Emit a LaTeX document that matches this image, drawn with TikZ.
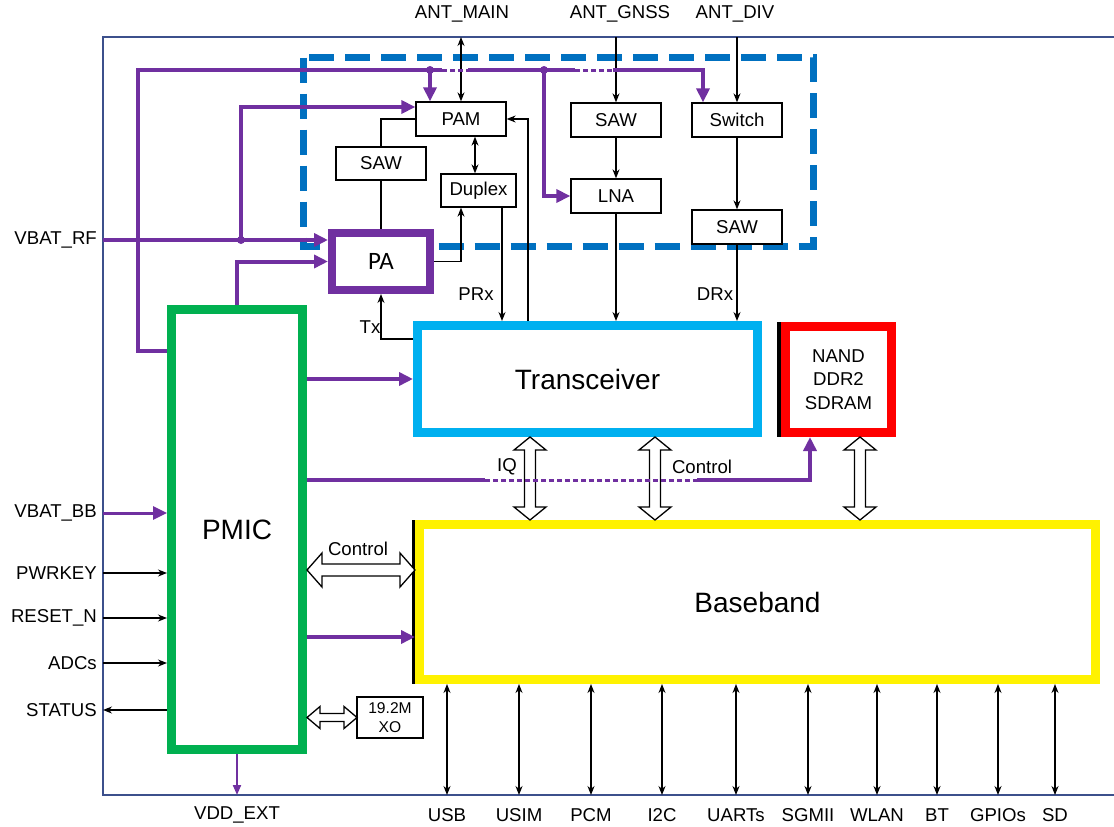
\documentclass[tikz,border=0pt]{standalone}
\usepackage{fontspec}
\setmainfont{Liberation Sans}
\newfontfamily\calfont{Carlito}
\usetikzlibrary{arrows.meta,calc}
\definecolor{pwrpurple}{RGB}{112,48,160}
\definecolor{rfblue}{RGB}{0,112,192}
\definecolor{trxcyan}{RGB}{0,176,240}
\definecolor{pmicgreen}{RGB}{0,176,80}
\definecolor{framegray}{RGB}{60,80,140}
\begin{document}
\begin{tikzpicture}[x=1pt,y=-1pt,
  every node/.style={font=\fontsize{18.6}{22}\selectfont,inner sep=0pt},
  blk/.style={draw,line width=1.3pt,fill=white,minimum width=90pt,minimum height=34pt},
  bigbox/.style={line width=9pt,fill=white,font=\fontsize{28}{32}\selectfont},
  sig/.style={line width=1.3pt,-{Stealth[length=9pt,width=7pt]}},
  sigtwo/.style={line width=1.3pt,{Stealth[length=9pt,width=7pt]}-{Stealth[length=9pt,width=7pt]}},
  pwr/.style={draw=pwrpurple,line width=4pt},
  pwrarr/.style={pwr,-{Triangle[length=14pt,width=13pt]}},
  pwrdot/.style={pwr,line width=3pt,dash pattern=on 5pt off 3pt},
  jdot/.style={circle,fill=pwrpurple,minimum size=8pt},
  pics/fatarrow/.style n args={4}{code={
    \draw[line width=1.3pt,fill=white] (0,0) -- (#2,#4) -- (#3,#4) -- (#3,#1-#4) -- (#2,#1-#4)
      -- (0,#1) -- (-#2,#1-#4) -- (-#3,#1-#4) -- (-#3,#4) -- (-#2,#4) -- cycle;}}
]
\useasboundingbox (0,0) rectangle (1114,827);
\draw[framegray,line width=1.5pt] (1114,37) -- (103,37) -- (103,795) -- (1114,795);
\draw[rfblue,line width=7pt,dash pattern=on 25pt off 11pt] (303.5,57.5) rectangle (813.5,246.5);

% RF front end
\node[blk] (pam) at (461,119) {PAM};
\node[blk,minimum height=33pt] (sawl) at (381,163.5) {SAW};
\node[blk,minimum width=75pt,minimum height=33pt] (duplex) at (478.5,190.5) {Duplex};
\node[blk] (sawg) at (616,120) {SAW};
\node[blk] (lna) at (616,196) {LNA};
\node[blk] (switch) at (737,120) {Switch};
\node[blk] (sawd) at (737,227) {SAW};
\node[draw=pwrpurple,line width=8pt,fill=white,minimum width=98pt,minimum height=57pt,
  font=\calfont\fontsize{25}{28}\selectfont] (pa) at (381,261.5) {PA};

% main blocks
\node[bigbox,draw=trxcyan,minimum width=340pt,minimum height=107pt] (trx) at (587.5,379) {Transceiver};
\node[bigbox,draw=red,minimum width=106pt,minimum height=106pt,align=center,
  font=\fontsize{18.6}{23.5}\selectfont] (nand) at (838.5,379.5) {NAND\\DDR2\\SDRAM};
\node[bigbox,draw=pmicgreen,minimum width=131pt,minimum height=440pt] (pmic) at (237,529.5) {PMIC};
\node[bigbox,draw=yellow,minimum width=676pt,minimum height=155pt] (bb) at (757.5,602) {Baseband};
\node[blk,minimum width=66pt,minimum height=41pt,align=center,
  font=\fontsize{15.6}{19}\selectfont] (xo) at (390,717.5) {19.2M\\XO};
\draw[line width=4pt] ([xshift=-2pt]nand.north west) -- ([xshift=-2pt]nand.south west);
\draw[line width=3pt] ([xshift=-1.5pt]bb.north west) -- ([xshift=-1.5pt]bb.south west);

% antennas
\node (antmainl) at (462,14) {ANT\_MAIN};
\node (antgnssl) at (620,14) {ANT\_GNSS};
\node (antdivl) at (735,14) {ANT\_DIV};
\coordinate (antmain) at (461,37);
\coordinate (antgnss) at (616,37);
\coordinate (antdiv) at (737,37);
\draw[sigtwo] (antmain) -- (pam);
\draw[line width=1.3pt,-{Stealth[length=9pt,width=7pt]}] (antgnss) -- (sawg);
\draw[sig] (antdiv) -- (switch);

% RF signal paths
\draw[sig] (sawg) -- (lna);
\draw[sig] (lna) -- (lna |- trx.north);
\draw[sig] (switch) -- (sawd);
\draw[sig] (sawd) -- (sawd |- trx.north);
\draw[sigtwo] ([xshift=14pt]pam.south) -- ([xshift=14pt]pam.south |- duplex.north);
\draw[sig] ([xshift=23.5pt]duplex.south) -- ([xshift=23.5pt]duplex.south |- trx.north);
\coordinate (fbx) at (528,0);
\draw[sig] (fbx |- trx.north) |- (pam.east);
\draw[line width=1.3pt] (pam.west) -| (sawl.north);
\draw[line width=1.3pt] (sawl) -- (pa);
\draw[sig] (pa.east) -| ([xshift=-17.5pt]duplex.south);
\coordinate (txrow) at (0,339);
\draw[sig] (trx.west |- txrow) -| (pa.south);
\node (txl) at (370,327) {Tx};
\node (prxl) at (476,294) {PRx};
\node (drxl) at (715,294) {DRx};

% power
\node[anchor=east] (vbatrfl) at (97,240) {VBAT\_RF};
\coordinate (vbatrf) at (103,240);
\draw[pwrarr] (vbatrf) -- (vbatrf -| pa.west);
\node[jdot] (j1) at (241,240) {};
\draw[pwrarr] (j1.center) |- ($(pam.west)+(0,-12)$);
\draw[pwrarr] (pmic.north) |- (pa.west);
\coordinate (busrow) at (0,351);
\coordinate (bustop) at (138,70);
\coordinate (gapa) at (442,70);
\coordinate (gapb) at (468,70);
\coordinate (gapc) at (575,70);
\coordinate (gapd) at (613,70);
\draw[pwr] (pmic.west |- busrow) -| (bustop) -- (gapa);
\draw[pwrdot] (gapa) -- (gapb);
\draw[pwr] (gapb) -- (gapc);
\draw[pwrdot] (gapc) -- (gapd);
\draw[pwrarr] (gapd) -| ([xshift=-34pt]switch.north);
\node[jdot] (j2) at (430,70) {};
\node[jdot] (j3) at (544,70) {};
\draw[pwrarr] (j2.center) -- (j2 |- pam.north);
\draw[pwrarr] (j3.center) |- (lna.west);
\draw[pwrarr] (pmic.east |- trx.west) -- (trx.west);
\coordinate (bbrow) at (0,637);
\draw[pwrarr] (pmic.east |- bbrow) -- (bb.west |- bbrow);

% buses between blocks
\coordinate (iqx) at (530,0);
\coordinate (ctlx) at (655,0);
\coordinate (memx) at (860,0);
\pic (iqbus) at (trx.south -| iqx) {fatarrow={83}{16}{5.5}{13}};
\pic (ctlbus) at (trx.south -| ctlx) {fatarrow={83}{16}{5.5}{13}};
\pic (membus) at (nand.south -| memx) {fatarrow={83}{16}{5.5}{13}};
\coordinate (ctlrow) at (0,570);
\pic[rotate=90] (pmicbus) at (pmic.east |- ctlrow) {fatarrow={108}{17}{6}{15}};
\pic[rotate=90] (xobus) at (pmic.east |- xo.west) {fatarrow={50}{11}{4}{13}};
\node (iql) at (507,467) {IQ};
\node (ctll) at (702,467) {Control};
\node (pmicctll) at (358,549) {Control};

\coordinate (nandrow) at (0,480);
\coordinate (dota) at (485,480);
\coordinate (dotb) at (697,480);
\draw[pwr,line width=3.5pt] (pmic.east |- nandrow) -- (dota);
\draw[pwrdot] (dota) -- (dotb);
\draw[pwrarr,line width=3.5pt] (dotb) -| ([xshift=-28.5pt]nand.south);

% PMIC pins
\node[anchor=east] (vbatbbl) at (97,513) {VBAT\_BB};
\coordinate (vbatbb) at (103,513);
\draw[pwrarr,line width=3pt] (vbatbb) -- (vbatbb -| pmic.west);
\foreach \py/\name [count=\i] in {573/PWRKEY,618/RESET\_N,663/ADCs}{
  \node[anchor=east] (inl\i) at (97,\py) {\name};
  \coordinate (in\i) at (103,\py);
  \draw[sig] (in\i) -- (in\i -| pmic.west);
}
\node[anchor=east] (statusl) at (97,710) {STATUS};
\coordinate (status) at (103,710);
\draw[sig] (status -| pmic.west) -- (status);
\coordinate (vddext) at (237,795);
\draw[pwr,line width=2pt,-{Triangle[length=10pt,width=8pt]}] (pmic.south) -- (vddext);
\node (vddextl) at (237,815) {VDD\_EXT};

% baseband interfaces
\foreach \px/\name [count=\i] in {447/USB,519/USIM,591/PCM,662/I2C,736/UARTs,808/SGMII,877/WLAN,937/BT,998/GPIOs,1055/SD}{
  \coordinate (io\i) at (\px,795);
  \draw[sigtwo] (io\i |- bb.south) -- (io\i);
  \node (iol\i) at (\px,815) {\name};
}
\end{tikzpicture}
\end{document}
